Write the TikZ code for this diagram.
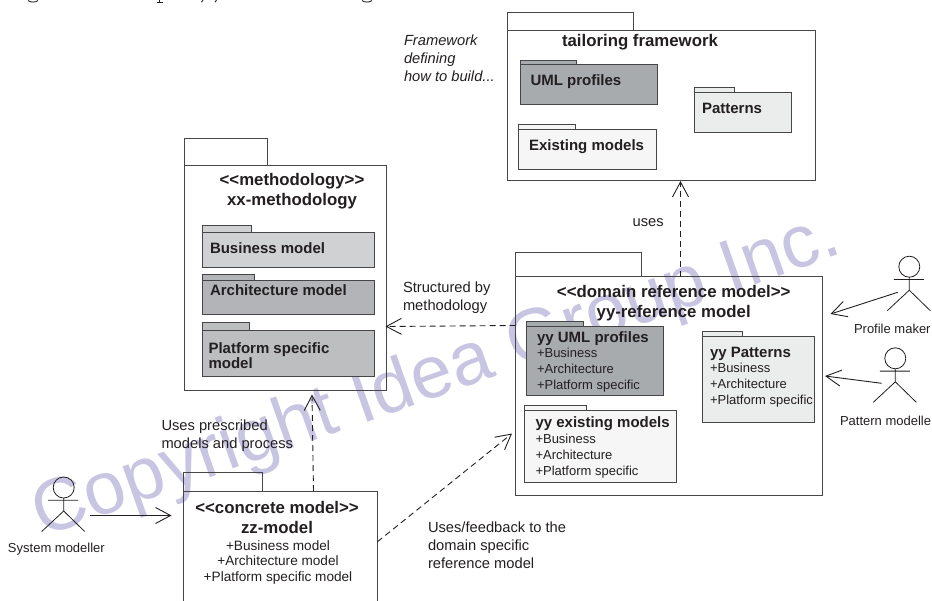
\documentclass[tikz,border=0pt]{standalone}
\usepackage{fontspec}
\setmainfont{Liberation Sans}
\usetikzlibrary{fit,calc,arrows.meta}
\definecolor{ink}{RGB}{35,31,32}
\definecolor{frame}{RGB}{70,70,72}
\definecolor{wm}{RGB}{200,197,226}
\definecolor{gA}{RGB}{208,209,211}
\definecolor{gB}{RGB}{178,180,183}
\definecolor{gC}{RGB}{188,190,192}
\definecolor{gD}{RGB}{168,171,174}
\definecolor{gE}{RGB}{235,236,236}
\definecolor{gF}{RGB}{246,246,246}
\newcommand{\fs}[2]{\fontsize{#1}{#2}\selectfont}
\tikzset{
  x=1pt,y=-1pt,
  every node/.style={text=ink,inner sep=0pt,outer sep=0pt},
  pkgbox/.style={draw=frame,line width=1pt},
  subbox/.style={draw=frame,line width=1pt,fill=#1},
  boldtitle/.style={font=\bfseries\fs{16.8}{20},align=center},
  boldleft/.style={font=\bfseries\fs{15}{15},align=left,anchor=west},
  plainlist/.style={font=\fs{13}{16},align=left,anchor=north west},
  note/.style={font=\fs{14.7}{18},align=left,anchor=north west},
  actorlabel/.style={font=\fs{13}{15},anchor=west},
  solidarrow/.style={draw=ink,line width=0.9pt,-{Straight Barb[length=15pt,width=16pt,line width=0.9pt]}},
  dep/.style={solidarrow,dash pattern=on 6pt off 4pt},
  stick/.style={draw=ink,line width=0.8pt},
}
\newcommand{\pkg}[7]{% name, x1, y1, x2, y2, tab right, tab top
  \node[pkgbox,fit={(#2,#3)(#4,#5)}] (#1) {};
  \node[pkgbox,fit={(#2,#7)(#6,#3)}] (#1-tab) {};}
\newcommand{\subpkg}[8]{% name, x1, y1, x2, y2, tab right, tab top, fill
  \node[subbox=#8,fit={(#2,#7)(#6,#3)}] (#1-tab) {};
  \node[subbox=#8,fit={(#2,#3)(#4,#5)}] (#1) {};}
\newcommand{\actor}[3]{% name, head x, head y
  \node[stick,circle,minimum size=21pt] (#1) at (#2,#3) {};
  \coordinate (#1-neck) at (#1.south);
  \coordinate (#1-hip) at ($(#1.center)+(0,23.5)$);
  \coordinate (#1-la) at ($(#1.center)+(-15.5,12.8)$);
  \coordinate (#1-ra) at ($(#1.center)+(14.5,12.8)$);
  \coordinate (#1-lf) at ($(#1.center)+(-22,44)$);
  \coordinate (#1-rf) at ($(#1.center)+(21,44)$);
  \draw[stick] (#1-neck) -- (#1-hip) (#1-la) -- (#1-ra) (#1-lf) -- (#1-hip) -- (#1-rf);}
\begin{document}
\begin{tikzpicture}
\useasboundingbox (0,0) rectangle (932,600);
\clip (0,0) rectangle (932,600);
% watermark behind everything
\node[text=wm,font=\fs{74.3}{76},rotate=19.5,anchor=base west] (watermark) at (42,537) {Copyright Idea Group Inc.};
% descenders of the cropped caption at the top edge
\draw[ink,line width=0.9pt] (28,0.5) .. controls (30,2.6) and (36,2.6) .. (38,0.5);
\draw[ink,line width=1pt] (159.5,0) -- (159.5,2.4) (157,2.6) -- (162.5,2.6);
\draw[ink,line width=0.9pt] (203,0) -- (201.5,2.2) (216.5,0) -- (215,2.2);
\draw[ink,line width=0.9pt] (362,0.5) .. controls (364,2.6) and (370,2.6) .. (372,0.5);
% methodology
\pkg{meth}{184.5}{165}{386}{390}{267}{138}
\node[boldtitle] (meth-t) at (292,191) {<{}<methodology>{}>\\xx-methodology};
\subpkg{biz}{202}{232.5}{374.5}{267}{251.5}{225.5}{gA}
\node[boldleft] (biz-t) at (210,248) {Business model};
\subpkg{arch}{202}{280.5}{374.5}{314}{254}{274.5}{gB}
\node[boldleft] (arch-t) at (210,290) {Architecture model};
\subpkg{plat}{202}{330.5}{374.5}{376}{249.5}{322.5}{gC}
\node[boldleft] (plat-t) at (208.5,355.5) {Platform specific\\model};
% tailoring
\pkg{tail}{507.5}{30}{815}{180}{633}{12}
\node[boldtitle] (tail-t) at (640,42) {tailoring framework};
\subpkg{uml}{520}{64.5}{657.5}{104.5}{576.5}{60}{gD}
\node[boldleft] (uml-t) at (530.5,82) {UML profiles};
\subpkg{pat}{694.5}{92.5}{791}{132.5}{734}{87.5}{gE}
\node[boldleft] (pat-t) at (702,108) {Patterns};
\subpkg{ex}{518.5}{129}{656}{169}{575.5}{124.5}{gF}
\node[boldleft] (ex-t) at (529,147) {Existing models};
% domain
\pkg{dom}{515.5}{276.5}{822.5}{495}{641}{252}
\node[boldtitle] (dom-t) at (673.7,303) {<{}<domain reference model>{}>\\yy-reference model};
\subpkg{yuml}{526.5}{326}{663.5}{395}{583}{321}{gD}
\node[boldleft] (yuml-t) at (537,339) {yy UML profiles};
\node[plainlist] (yuml-l) at (537,348) {+Business\\+Architecture\\+Platform specific};
\subpkg{ypat}{702.5}{336}{814}{422}{742}{331}{gE}
\node[boldleft] (ypat-t) at (710,354) {yy Patterns};
\node[plainlist] (ypat-l) at (710,363.5) {+Business\\+Architecture\\+Platform specific};
\subpkg{yex}{524}{410.5}{676}{482}{586}{405}{gF}
\node[boldleft] (yex-t) at (535.5,423.5) {yy existing models};
\node[plainlist] (yex-l) at (535.5,434) {+Business\\+Architecture\\+Platform specific};
% concrete model
\pkg{zz}{183.5}{491}{377}{610}{262}{472.5}
\node[boldtitle] (zz-t) at (277,517) {<{}<concrete model>{}>\\zz-model};
\node[font=\fs{13.6}{15.6},align=center,anchor=north] (zz-l) at (278,540.5) {+Business model\\+Architecture model\\+Platform specific model};
% actors
\actor{sys}{63.7}{487.5}
\node[actorlabel] (sys-l) at (8,549.5) {System modeller};
\actor{prof}{909.3}{266.7}
\node[actorlabel] (prof-l) at (854,329) {Profile maker};
\actor{patm}{895.3}{358.3}
\node[actorlabel] (patm-l) at (840,420.5) {Pattern modelle};
% notes
\node[note,font=\itshape\fs{14.7}{18}] (n1) at (404,35) {Framework\\defining\\how to build...};
\node[note] (n2) at (632.7,219) {uses};
\node[note] (n3) at (403,281.5) {Structured by\\methodology};
\node[note] (n4) at (161.5,420) {Uses prescribed\\models and process};
\node[note] (n5) at (428,522) {Uses/feedback to the\\domain specific\\reference model};
% connectors
\coordinate (sysr) at (90,515.5);
\coordinate (profa) at (897.7,292.3);
\coordinate (patma) at (881.7,383.3);
\draw[solidarrow] (sysr) -- ($(zz.north west)+(-12,24.5)$);
\draw[solidarrow] (profa) -- ($(dom.north east)+(8,37.5)$);
\draw[solidarrow] (patma) -- ($(dom.north east)+(2.5,99.5)$);
\draw[dep] ($(dom.north west)+(165,0)$) -- ($(tail.south west)+(173,1)$);
\draw[dep] ($(dom.north west)+(0,49)$) -- ($(meth.north east)+(-0.5,161.5)$);
\draw[dep] ($(zz.north west)+(130,0)$) -- ($(meth.south west)+(127.5,4.5)$);
\draw[dep] ($(zz.north east)+(0.5,50.7)$) -- ($(dom.north west)+(-3.5,157)$);
\end{tikzpicture}
\end{document}
